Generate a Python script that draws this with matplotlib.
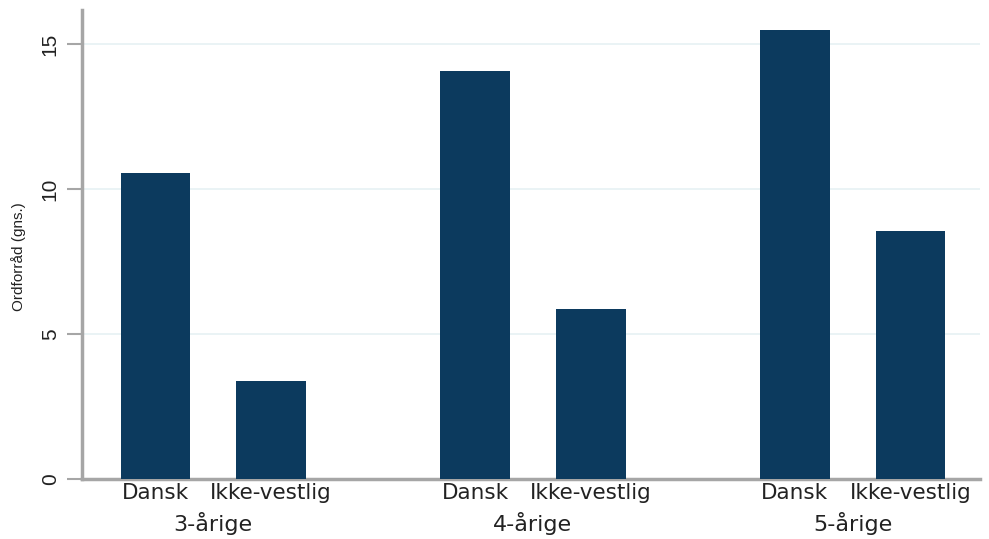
import matplotlib
matplotlib.use("Agg")
import matplotlib.pyplot as plt
import matplotlib.transforms as mtransforms
import numpy as np

plt.rcParams["font.family"] = ["Liberation Sans", "DejaVu Sans"]

# data
age_groups = ["3-årige", "4-årige", "5-årige"]
origins = ["Dansk", "Ikke-vestlig"]
dansk = [10.55, 14.07, 15.48]
ikke_vestlig = [3.38, 5.86, 8.55]

BAR_COLOR = "#0c3a5e"
GRID_COLOR = "#e6f1f3"
AXIS_COLOR = "#a6a6a6"
LABEL_COLOR = "#222222"

# layout in bar-width units
group_gap = 4.586
offset = 0.829
centers = np.arange(len(age_groups)) * group_gap

fig = plt.figure(figsize=(9.89, 5.39), dpi=100)
ax = fig.add_axes([0.083, 0.111, 0.908, 0.870])

ax.bar(centers - offset, dansk, width=1.0, color=BAR_COLOR, zorder=3)
ax.bar(centers + offset, ikke_vestlig, width=1.0, color=BAR_COLOR, zorder=3)

ax.set_xlim(-1.88, 11.0)
ax.set_ylim(0, 16.17)

# y axis
ax.set_yticks([0, 5, 10, 15])
ax.set_yticklabels(["0", "5", "10", "15"], rotation=90, va="center",
                   fontsize=15, color=LABEL_COLOR)
ax.tick_params(axis="y", length=11, width=1.5, color=AXIS_COLOR, pad=5)
ax.yaxis.grid(True, color=GRID_COLOR, linewidth=1.2, zorder=0)
ax.set_ylabel("Ordforråd (gns.)", fontsize=11, color=LABEL_COLOR)
ax.yaxis.set_label_coords(-0.062, 0.475)

# x axis: category labels, no ticks
xpos = np.concatenate([centers - offset, centers + offset])
xlab = [origins[0]] * 3 + [origins[1]] * 3
ax.set_xticks(xpos)
ax.set_xticklabels(xlab, fontsize=15.5, family="DejaVu Sans",
                   color=LABEL_COLOR)
ax.tick_params(axis="x", length=0, pad=3)

trans = mtransforms.blended_transform_factory(ax.transData, ax.transAxes)
for c, name in zip(centers, age_groups):
    ax.text(c, -0.07, name, transform=trans, ha="center", va="top",
            fontsize=16, family="DejaVu Sans", color=LABEL_COLOR)

for side in ["top", "right"]:
    ax.spines[side].set_visible(False)
for side in ["left", "bottom"]:
    ax.spines[side].set_color(AXIS_COLOR)
    ax.spines[side].set_linewidth(2.5)

fig.savefig("out.png", dpi=100)
